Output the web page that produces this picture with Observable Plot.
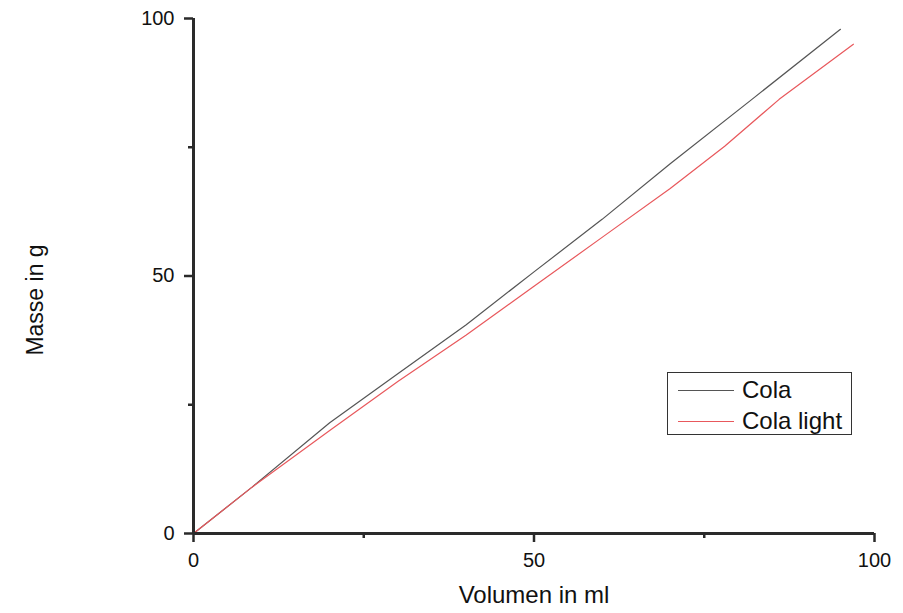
<!DOCTYPE html>
<html>
<head>
<meta charset="utf-8">
<script src="https://cdn.jsdelivr.net/npm/d3@7"></script>
<script src="https://cdn.jsdelivr.net/npm/@observablehq/plot@0.6"></script>
<style>
  html, body { margin: 0; padding: 0; background: #fff; }
  #wrap { position: relative; width: 903px; height: 613px; font-family: "Liberation Sans", Arial, sans-serif; }
  #legend { position: absolute; left: 667px; top: 372px; width: 183px; height: 61px; border: 1.5px solid #333; background: #fff; }
  #legend .row { position: absolute; left: 0; height: 30px; display: flex; align-items: center; font-size: 24px; color: #111; }
  #legend .sw { width: 56px; height: 0; margin-left: 10px; margin-right: 8px; }
</style>
</head>
<body>
<div id="wrap"></div>
<script>
const colaVolume = [0, 8.6, 20, 30, 40, 50, 60, 70, 82, 95];
const colaMass   = [0, 9.0, 21.5, 31, 40.5, 50.8, 61, 71.8, 84.3, 97.9];
const lightVolume = [0, 8.6, 20, 30, 40, 50, 60, 70, 78, 86, 96.9];
const lightMass   = [0, 9.0, 20, 29.5, 38.5, 48, 57.5, 67, 75.2, 84.3, 95];
const series = ["Cola", "Cola light"];
const colors = ["#555555", "#e8585c"];
const majorTicks = [0, 50, 100];
const minorTicks = [25, 75];
const xTitle = "Volumen in ml";
const yTitle = "Masse in g";

const data = [
  ...colaVolume.map((v, i) => ({series: series[0], volume: v, mass: colaMass[i]})),
  ...lightVolume.map((v, i) => ({series: series[1], volume: v, mass: lightMass[i]}))
];

const plot = Plot.plot({
  width: 903,
  height: 613,
  marginLeft: 193,
  marginRight: 29,
  marginTop: 18,
  marginBottom: 80,
  style: {fontFamily: "Liberation Sans, Arial, sans-serif", fontSize: "19px", color: "#111", background: "#fff"},
  x: {domain: [0, 100]},
  y: {domain: [0, 100]},
  color: {domain: series, range: colors},
  marks: [
    Plot.line(data, {x: "volume", y: "mass", z: "series", stroke: "series", strokeWidth: 1.2}),
    Plot.axisX(majorTicks, {tickSize: 9, tickPadding: 10, strokeWidth: 2.5, stroke: "#2a2a2a", label: null, fontSize: 20}),
    Plot.axisX(minorTicks, {tickSize: 5, strokeWidth: 2.5, stroke: "#2a2a2a", text: null, label: null}),
    Plot.axisY(majorTicks, {tickSize: 9, tickPadding: 10, strokeWidth: 2.5, stroke: "#2a2a2a", label: null, fontSize: 20}),
    Plot.axisY(minorTicks, {tickSize: 5, strokeWidth: 2.5, stroke: "#2a2a2a", text: null, label: null}),
    Plot.ruleX([0], {stroke: "#2a2a2a", strokeWidth: 3}),
    Plot.ruleY([0], {stroke: "#2a2a2a", strokeWidth: 3}),
    Plot.text([xTitle], {text: d => d, frameAnchor: "bottom", dy: 69, fontSize: 24, fill: "#111"}),
    Plot.text([yTitle], {text: d => d, frameAnchor: "left", textAnchor: "middle", dx: -158, dy: 24, rotate: -90, fontSize: 23, fill: "#111"})
  ]
});

plot.querySelectorAll('g[aria-label="rule"] line').forEach(l => l.setAttribute("stroke-width", "3"));

const wrap = document.getElementById("wrap");
wrap.appendChild(plot);

const legend = document.createElement("div");
legend.id = "legend";
series.forEach((s, i) => {
  const row = document.createElement("div");
  row.className = "row";
  row.style.top = (2 + i * 31) + "px";
  const sw = document.createElement("span");
  sw.className = "sw";
  sw.style.borderTop = "1.2px solid " + colors[i];
  const t = document.createElement("span");
  t.textContent = s;
  row.appendChild(sw);
  row.appendChild(t);
  legend.appendChild(row);
});
wrap.appendChild(legend);
</script>
</body>
</html>
